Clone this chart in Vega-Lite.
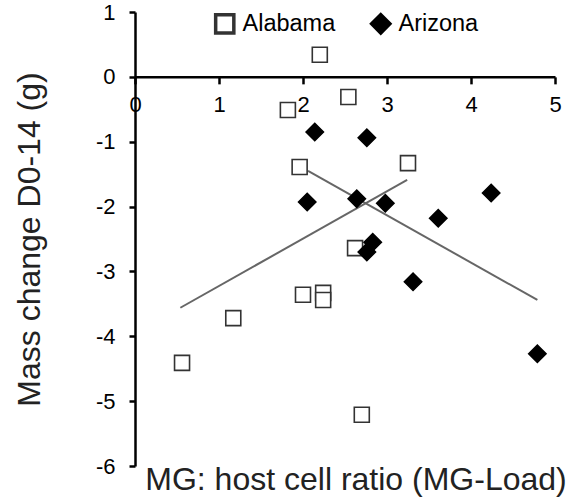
{
  "$schema": "https://vega.github.io/schema/vega-lite/v6.json",
  "width": 420,
  "height": 454,
  "autosize": {"type": "none"},
  "padding": {"left": 135, "top": 12, "right": 23, "bottom": 38},
  "background": "white",
  "config": {
    "font": "Liberation Sans",
    "view": {"stroke": null},
    "axis": {"grid": false, "domainColor": "black", "domainWidth": 2.5, "tickColor": "black", "tickWidth": 2.5, "labelColor": "black", "labelFontSize": 22, "labelFont": "Liberation Sans", "labelExpr": "'' + datum.value"},
    "legend": {"labelFontSize": 23.5, "labelColor": "black", "labelFont": "Liberation Sans", "symbolSize": 330, "symbolStrokeWidth": 3.5, "labelOffset": 6, "columnPadding": 28, "padding": 0}
  },
  "title": {"text": "MG: host cell ratio (MG-Load)", "orient": "bottom", "anchor": "middle", "fontSize": 32, "fontWeight": "normal", "color": "#222", "offset": -12, "dx": 11, "baseline": "top", "font": "Liberation Sans"},
  "datasets": {
    "points": [
      {"site": "Alabama", "x": 2.20, "y": 0.34},
      {"site": "Alabama", "x": 1.82, "y": -0.51},
      {"site": "Alabama", "x": 2.54, "y": -0.31},
      {"site": "Alabama", "x": 1.96, "y": -1.39},
      {"site": "Alabama", "x": 3.25, "y": -1.33},
      {"site": "Alabama", "x": 2.62, "y": -2.64},
      {"site": "Alabama", "x": 2.00, "y": -3.36},
      {"site": "Alabama", "x": 2.24, "y": -3.33},
      {"site": "Alabama", "x": 2.24, "y": -3.44},
      {"site": "Alabama", "x": 1.17, "y": -3.72},
      {"site": "Alabama", "x": 0.56, "y": -4.41},
      {"site": "Alabama", "x": 2.70, "y": -5.21},
      {"site": "Arizona", "x": 2.14, "y": -0.85},
      {"site": "Arizona", "x": 2.76, "y": -0.94},
      {"site": "Arizona", "x": 2.05, "y": -1.93},
      {"site": "Arizona", "x": 2.64, "y": -1.88},
      {"site": "Arizona", "x": 2.98, "y": -1.95},
      {"site": "Arizona", "x": 3.61, "y": -2.18},
      {"site": "Arizona", "x": 4.24, "y": -1.79},
      {"site": "Arizona", "x": 2.83, "y": -2.55},
      {"site": "Arizona", "x": 2.76, "y": -2.70},
      {"site": "Arizona", "x": 3.31, "y": -3.16},
      {"site": "Arizona", "x": 4.79, "y": -4.27}
    ],
    "fits": [
      {"series": "Alabama", "x": 0.54, "y": -3.56},
      {"series": "Alabama", "x": 3.24, "y": -1.59},
      {"series": "Arizona", "x": 2.06, "y": -1.45},
      {"series": "Arizona", "x": 4.79, "y": -3.44}
    ]
  },
  "encoding": {
    "x": {"field": "x", "type": "quantitative", "scale": {"domain": [0, 5], "nice": false},
      "axis": {"orient": "bottom", "offset": -389.14, "values": [0, 1, 2, 3, 4, 5], "title": null, "tickSize": 7, "labelPadding": 11, "labelFlush": false}},
    "y": {"field": "y", "type": "quantitative", "scale": {"domain": [-6, 1], "nice": false, "zero": false},
      "axis": {"values": [-6, -5, -4, -3, -2, -1, 0, 1], "title": "Mass change D0-14 (g)", "titleFontSize": 32, "titleFontWeight": "normal", "titleColor": "#222", "titlePadding": 49, "tickSize": 6, "labelPadding": 14}}
  },
  "layer": [
    {
      "data": {"name": "fits"},
      "mark": {"type": "line", "color": "#666", "strokeWidth": 2},
      "encoding": {
        "detail": {"field": "series", "type": "nominal"}
      }
    },
    {
      "data": {"name": "points"},
      "transform": [{"filter": "datum.site === 'Alabama'"}],
      "mark": {"type": "point", "strokeWidth": 1.6, "opacity": 1, "size": 225},
      "encoding": {
        "shape": {"field": "site", "type": "nominal", "scale": {"domain": ["Alabama", "Arizona"], "range": ["square", "diamond"]},
          "legend": {"title": null, "orient": "none", "legendX": 78, "legendY": 0, "direction": "horizontal"}},
        "fill": {"field": "site", "type": "nominal", "scale": {"domain": ["Alabama", "Arizona"], "range": ["white", "black"]},
          "legend": {"title": null, "orient": "none", "legendX": 78, "legendY": 0, "direction": "horizontal"}},
        "stroke": {"field": "site", "type": "nominal", "scale": {"domain": ["Alabama", "Arizona"], "range": ["#333", "black"]},
          "legend": {"title": null, "orient": "none", "legendX": 78, "legendY": 0, "direction": "horizontal"}}
      }
    },
    {
      "data": {"name": "points"},
      "transform": [{"filter": "datum.site === 'Arizona'"}],
      "mark": {"type": "point", "strokeWidth": 1.6, "opacity": 1, "size": 300},
      "encoding": {
        "shape": {"field": "site", "type": "nominal", "scale": {"domain": ["Alabama", "Arizona"], "range": ["square", "diamond"]},
          "legend": {"title": null, "orient": "none", "legendX": 78, "legendY": 0, "direction": "horizontal"}},
        "fill": {"field": "site", "type": "nominal", "scale": {"domain": ["Alabama", "Arizona"], "range": ["white", "black"]},
          "legend": {"title": null, "orient": "none", "legendX": 78, "legendY": 0, "direction": "horizontal"}},
        "stroke": {"field": "site", "type": "nominal", "scale": {"domain": ["Alabama", "Arizona"], "range": ["#333", "black"]},
          "legend": {"title": null, "orient": "none", "legendX": 78, "legendY": 0, "direction": "horizontal"}}
      }
    }
  ]
}
